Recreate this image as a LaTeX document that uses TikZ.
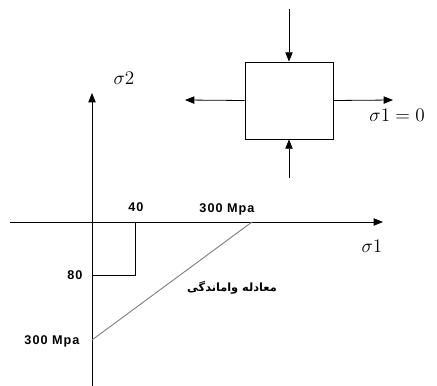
\documentclass[tikz,border=0pt]{standalone}
\usepackage{fontspec}
\setmainfont{Liberation Serif}
\newfontfamily\labelfont[LetterSpace=8]{Liberation Sans}
\newfontfamily\persianfont[Script=Arabic]{DejaVu Sans}
\TeXXeTstate=1
\usetikzlibrary{arrows.meta,positioning}

\begin{document}
\begin{tikzpicture}[x=0.75pt, y=-0.75pt, line width=0.6pt,
  every node/.style={inner sep=0pt},
  axis/.style={-{Triangle[length=7pt,width=5.5pt]}},
  val/.style={font=\labelfont\bfseries\fontsize{9.5}{11}\selectfont},
  sig/.style={font=\fontsize{15}{17}\selectfont}]
  \useasboundingbox (0,0) rectangle (437,386);
  % axes
  \coordinate (xstart) at (10,222);
  \coordinate (xend) at (383,222);
  \coordinate (ystart) at (92,386);
  \coordinate (yend) at (92,93);
  \draw[axis] (xstart) -- (xend);
  \draw[axis] (ystart) -- (yend);
  \node[sig] (s1) at (372,246) {$\sigma 1$};
  \node[sig] (s2) at (124,78) {$\sigma 2$};
  % stress point 40 / 80
  \coordinate (c40) at (135,222);
  \coordinate (corner) at (135,275);
  \coordinate (c80) at (92,275);
  \draw (c40) -- (corner) -- (c80);
  \node[val] (l40) at (136,207) {40};
  \node[val] (l80) at (75,275) {80};
  % failure line
  \coordinate (fy) at (92,340);
  \coordinate (fx) at (252,222);
  \draw[gray, line width=0.7pt] (fy) -- (fx);
  \node[val] (lfx) at (227,209) {300 Mpa};
  \node[val] (lfy) at (52,341) {300 Mpa};
  \node[font=\persianfont\bfseries\fontsize{8.5}{10}\selectfont] (fail) at (232,288)
    {\beginR معادله واماندگی\endR};
  % stress element
  \node[draw, minimum width=66pt, minimum height=57.75pt] (elem) at (289,100.5) {};
  \coordinate (ftop) at (289,9);
  \coordinate (fbot) at (289,178);
  \coordinate (fleft) at (185,100);
  \coordinate (fright) at (393,100);
  \draw[axis] (ftop) -- (elem.north);
  \draw[axis] (fbot) -- (elem.south);
  \draw[axis] (elem.west) -- (fleft);
  \draw[axis] (elem.east) -- (fright);
  \node[sig, anchor=west] (s10) at (369,115) {$\sigma 1 = 0$};
\end{tikzpicture}
\end{document}
